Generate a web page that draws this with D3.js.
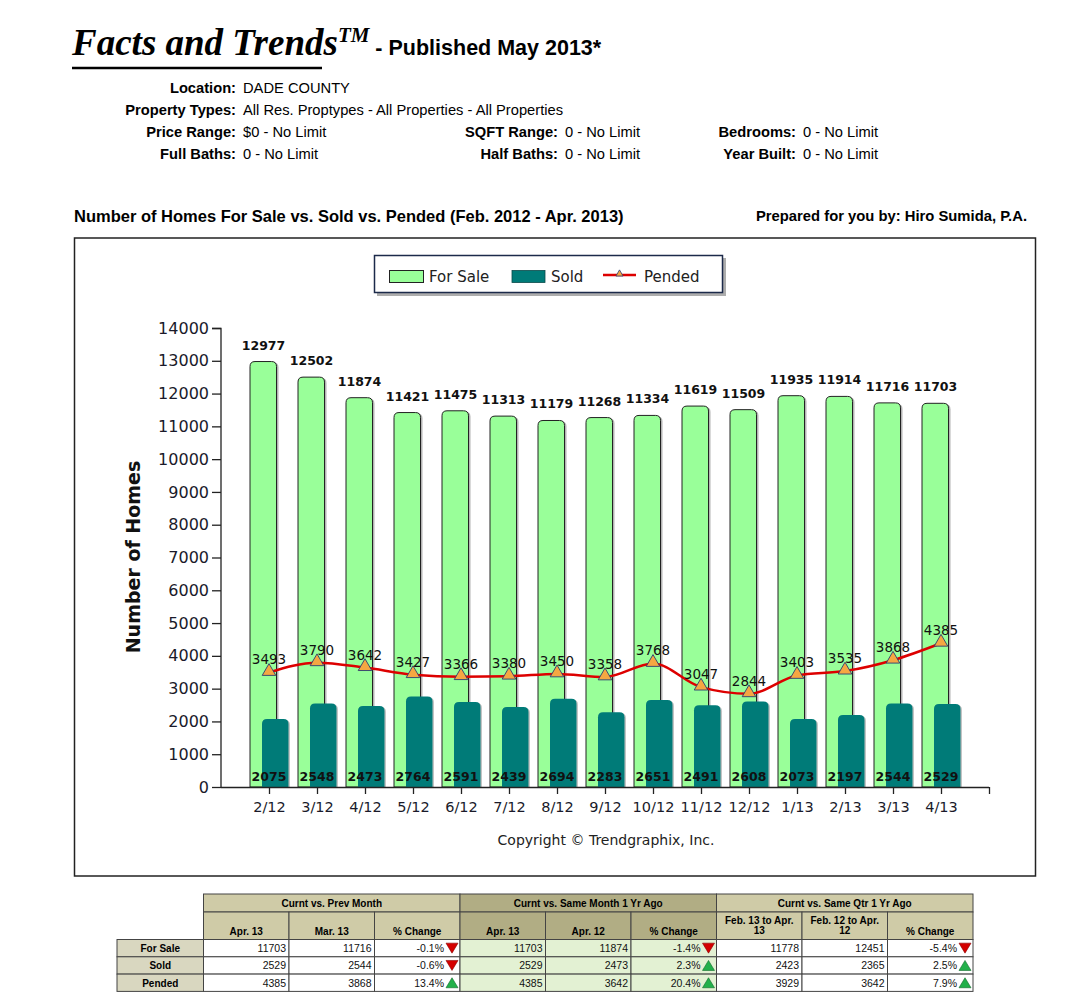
<!DOCTYPE html>
<html><head><meta charset="utf-8">
<script src="https://cdn.jsdelivr.net/npm/d3@7/dist/d3.min.js"></script>
<style>
html,body{margin:0;padding:0;background:#fff;}
svg{display:block;}
</style></head>
<body>
<svg id="c" width="1080" height="998"></svg>
<script>
// ---------- DATA ----------
const months = ["2/12","3/12","4/12","5/12","6/12","7/12","8/12","9/12","10/12","11/12","12/12","1/13","2/13","3/13","4/13"];
const forSale = [12977,12502,11874,11421,11475,11313,11179,11268,11334,11619,11509,11935,11914,11716,11703];
const sold = [2075,2548,2473,2764,2591,2439,2694,2283,2651,2491,2608,2073,2197,2544,2529];
const pended = [3493,3790,3642,3427,3366,3380,3450,3358,3768,3047,2844,3403,3535,3868,4385];
const yTicks = [0,1000,2000,3000,4000,5000,6000,7000,8000,9000,10000,11000,12000,13000,14000];
const seriesNames = ["For Sale","Sold","Pended"];

const infoRows = [
  [["Location:","DADE COUNTY"]],
  [["Property Types:","All Res. Proptypes - All Properties - All Properties"]],
  [["Price Range:","$0 - No Limit"],["SQFT Range:","0 - No Limit"],["Bedrooms:","0 - No Limit"]],
  [["Full Baths:","0 - No Limit"],["Half Baths:","0 - No Limit"],["Year Built:","0 - No Limit"]]
];

const tableGroups = ["Curnt vs. Prev Month","Curnt vs. Same Month 1 Yr Ago","Curnt vs. Same Qtr 1 Yr Ago"];
const tableCols = [["Apr. 13"],["Mar. 13"],["% Change"],["Apr. 13"],["Apr. 12"],["% Change"],["Feb. 13 to Apr.","13"],["Feb. 12 to Apr.","12"],["% Change"]];
const rowLabels = ["For Sale","Sold","Pended"];
const tableValues = [
  ["11703","11716","-0.1%","11703","11874","-1.4%","11778","12451","-5.4%"],
  ["2529","2544","-0.6%","2529","2473","2.3%","2423","2365","2.5%"],
  ["4385","3868","13.4%","4385","3642","20.4%","3929","3642","7.9%"]
];

// ---------- DRAW ----------
const svg = d3.select("#c");
const SANS = "'Liberation Sans', Arial, sans-serif";
const CH = "'DejaVu Sans', Verdana, sans-serif";

// Header
const t = svg.append("text").attr("x",72).attr("y",55);
t.append("tspan").text("Facts and Trends").attr("font-family","'Liberation Serif', 'Times New Roman', serif")
  .attr("font-style","italic").attr("font-weight","bold").attr("font-size",37);
t.append("tspan").text("TM").attr("font-family","'Liberation Serif', serif").attr("font-style","italic")
  .attr("font-weight","bold").attr("font-size",21).attr("dy",-13);
t.append("tspan").text(" - Published May 2013*").attr("font-family",SANS).attr("font-weight","bold")
  .attr("font-size",21.5).attr("dy",13);
svg.append("line").attr("x1",72).attr("x2",322).attr("y1",68).attr("y2",68).attr("stroke","#000").attr("stroke-width",2.5);

const colX = [236,558,796];
const rowY = [93,115,137,159];
infoRows.forEach((row,ri)=>{
  row.forEach((pair,ci)=>{
    svg.append("text").attr("x",colX[ci]).attr("y",rowY[ri]).attr("text-anchor","end")
      .attr("font-family",SANS).attr("font-weight","bold").attr("font-size",14.7).text(pair[0]);
    svg.append("text").attr("x",colX[ci]+7).attr("y",rowY[ri])
      .attr("font-family",SANS).attr("font-size",14.7).text(pair[1]);
  });
});

svg.append("text").attr("x",74).attr("y",222).attr("font-family",SANS).attr("font-weight","bold")
  .attr("font-size",16.5).text("Number of Homes For Sale vs. Sold vs. Pended (Feb. 2012 - Apr. 2013)");
svg.append("text").attr("x",1027).attr("y",221).attr("text-anchor","end").attr("font-family",SANS).attr("font-weight","bold")
  .attr("font-size",14.8).text("Prepared for you by: Hiro Sumida, P.A.");

// Frame
svg.append("rect").attr("x",74.5).attr("y",238).attr("width",961).attr("height",638)
  .attr("fill","#fff").attr("stroke","#222").attr("stroke-width",1.5);

// Legend
const lg = svg.append("g");
lg.append("rect").attr("x",377).attr("y",258).attr("width",349).attr("height",38).attr("fill","#8a8a8a").attr("opacity",0.7);
lg.append("rect").attr("x",374.5).attr("y",255.5).attr("width",348).attr("height",37).attr("fill","#fff").attr("stroke","#1c2a4a").attr("stroke-width",1.5);
lg.append("rect").attr("x",389.5).attr("y",270.5).attr("width",34).attr("height",12).attr("fill","#99ff99").attr("stroke","#222");
lg.append("text").attr("x",429).attr("y",282).attr("font-family",CH).attr("font-size",15).attr("fill","#222").text(seriesNames[0]);
lg.append("rect").attr("x",512).attr("y",270.5).attr("width",33).attr("height",12).attr("fill","#007b78").attr("stroke","#0b4a4a").attr("stroke-width",0.8);
lg.append("text").attr("x",551).attr("y",282).attr("font-family",CH).attr("font-size",15).attr("fill","#222").text(seriesNames[1]);
lg.append("line").attr("x1",603).attr("x2",636).attr("y1",275).attr("y2",275).attr("stroke","#dd0000").attr("stroke-width",2.5);
lg.append("path").attr("d",d3.symbol(d3.symbolTriangle,22)()).attr("transform","translate(619.5,274)").attr("fill","#f5a742").attr("stroke","#2c3c70").attr("stroke-width",0.8);
lg.append("text").attr("x",644).attr("y",282).attr("font-family",CH).attr("font-size",15).attr("fill","#222").text(seriesNames[2]);

// Scales
const x = d3.scaleLinear().domain([0, months.length+1]).range([221, 989]);
const y = d3.scaleLinear().domain([0, 14000]).range([787, 328]);

function topRounded(x0, y0, w, h, r){
  r = Math.min(r, h);
  return `M${x0},${y0+h}V${y0+r}Q${x0},${y0} ${x0+r},${y0}H${x0+w-r}Q${x0+w},${y0} ${x0+w},${y0+r}V${y0+h}Z`;
}
const BW = 26.5;

// For Sale bars (shadow then bar)
const gBars = svg.append("g");
forSale.forEach((v,i)=>{
  const cx = x(i+1);
  gBars.append("path").attr("d", topRounded(cx-19+2, y(v)+1, BW, y(0)-y(v)-1, 5)).attr("fill","#777").attr("opacity",0.55);
  gBars.append("path").attr("d", topRounded(cx-19, y(v), BW, y(0)-y(v), 5)).attr("fill","#99ff99").attr("stroke","#222").attr("stroke-width",1);
});
// Sold bars
sold.forEach((v,i)=>{
  const cx = x(i+1);
  gBars.append("path").attr("d", topRounded(cx-7+1.5, y(v)+1, BW, y(0)-y(v)-1, 5)).attr("fill","#555").attr("opacity",0.35);
  gBars.append("path").attr("d", topRounded(cx-7, y(v), BW, y(0)-y(v), 5)).attr("fill","#007b78");
});

// Axes
const yAxis = d3.axisLeft(y).tickValues(yTicks).tickSize(9).tickPadding(3).tickFormat(d3.format("d"));
const ya = svg.append("g").attr("transform","translate(221,0)").call(yAxis);
ya.select(".domain").attr("stroke","#222").attr("stroke-width",1.3).attr("d","M-9,328.5H0V787");
ya.selectAll(".tick line").attr("stroke","#222").attr("stroke-width",1.3);
ya.selectAll(".tick text").attr("font-family",CH).attr("font-size",16).attr("fill","#1a1a2a");

const xAxis = d3.axisBottom(x).tickValues(d3.range(1, months.length+2)).tickSize(7).tickPadding(6)
  .tickFormat(d=> months[d-1] || "");
const xa = svg.append("g").attr("transform","translate(0,787)").call(xAxis);
xa.select(".domain").attr("stroke","#222").attr("stroke-width",1.3).attr("d","M221,0.5H989");
xa.selectAll(".tick line").attr("stroke","#222").attr("stroke-width",1.3);
xa.selectAll(".tick text").attr("font-family",CH).attr("font-size",14.5).attr("fill","#1a1a2a").attr("dy","0.85em");

// Value labels
const lbl = svg.append("g").attr("font-family",CH);
forSale.forEach((v,i)=>{
  lbl.append("text").attr("x", x(i+1)-5.5).attr("y", y(v)-12).attr("text-anchor","middle")
    .attr("font-weight","bold").attr("font-size",12.5).attr("fill","#111").text(v);
});
sold.forEach((v,i)=>{
  lbl.append("text").attr("x", x(i+1)).attr("y", 781).attr("text-anchor","middle")
    .attr("font-weight","bold").attr("font-size",12.5).attr("fill","#111").text(v);
});

// Pended line
const line = d3.line().x((d,i)=>x(i+1)).y(d=>y(d)).curve(d3.curveMonotoneX);
svg.append("path").datum(pended).attr("d",line).attr("fill","none").attr("stroke","#dd0000").attr("stroke-width",2.5);
pended.forEach((v,i)=>{
  svg.append("path").attr("d",d3.symbol(d3.symbolTriangle,80)()).attr("transform",`translate(${x(i+1)},${y(v)-1})`)
    .attr("fill","#f5a742").attr("stroke","#2c3c70").attr("stroke-width",0.9);
  svg.append("text").attr("x",x(i+1)).attr("y",y(v)-8).attr("text-anchor","middle").attr("font-family",CH)
    .attr("font-size",13.5).attr("fill","#111").text(v);
});

// Y axis title
svg.append("text").attr("transform","translate(140,557) rotate(-90)").attr("text-anchor","middle")
  .attr("font-family",CH).attr("font-weight","bold").attr("font-size",19).attr("fill","#111").text("Number of Homes");

// Copyright
svg.append("text").attr("x",606).attr("y",845).attr("text-anchor","middle").attr("font-family",CH)
  .attr("font-size",14).attr("fill","#222").text("Copyright \u00A9 Trendgraphix, Inc.");

// ---------- TABLE ----------
const tb = svg.append("g").attr("font-family",SANS);
const colW = 85.5, tx0 = 203.5;
const hy0 = 894, hy1 = 912, hy2 = 939.5, rowH = 17.3;
const grpHead = ["#cfcba7","#b1ad84","#cfcba7"];
const grpCell = ["#ffffff","#e3f1d3","#ffffff"];
const bd = "#444";
tableGroups.forEach((g,gi)=>{
  const gx = tx0 + gi*3*colW;
  tb.append("rect").attr("x",gx).attr("y",hy0).attr("width",3*colW).attr("height",hy1-hy0).attr("fill",grpHead[gi]).attr("stroke",bd);
  tb.append("text").attr("x",gx+1.5*colW).attr("y",hy0+12.5).attr("text-anchor","middle").attr("font-weight","bold").attr("font-size",10).text(g);
});
tableCols.forEach((c,ci)=>{
  const gi = Math.floor(ci/3);
  const cx = tx0 + ci*colW;
  tb.append("rect").attr("x",cx).attr("y",hy1).attr("width",colW).attr("height",hy2-hy1).attr("fill",grpHead[gi]).attr("stroke",bd);
  if(c.length===1){
    tb.append("text").attr("x",cx+colW/2).attr("y",hy2-5).attr("text-anchor","middle").attr("font-weight","bold").attr("font-size",10).text(c[0]);
  } else {
    tb.append("text").attr("x",cx+colW/2).attr("y",hy2-16).attr("text-anchor","middle").attr("font-weight","bold").attr("font-size",10).text(c[0]);
    tb.append("text").attr("x",cx+colW/2).attr("y",hy2-6).attr("text-anchor","middle").attr("font-weight","bold").attr("font-size",10).text(c[1]);
  }
});
rowLabels.forEach((r,ri)=>{
  const ry = hy2 + ri*rowH;
  tb.append("rect").attr("x",117).attr("y",ry).attr("width",tx0-117).attr("height",rowH).attr("fill","#d9d7c0").attr("stroke",bd);
  tb.append("text").attr("x",(117+tx0)/2).attr("y",ry+12.5).attr("text-anchor","middle").attr("font-weight","bold").attr("font-size",10).text(r);
  tableValues[ri].forEach((v,ci)=>{
    const gi = Math.floor(ci/3);
    const cx = tx0 + ci*colW;
    tb.append("rect").attr("x",cx).attr("y",ry).attr("width",colW).attr("height",rowH).attr("fill",grpCell[gi]).attr("stroke",bd);
    const isPct = ci%3===2;
    tb.append("text").attr("x",cx+colW-(isPct?16:3)).attr("y",ry+12.5).attr("text-anchor","end").attr("font-size",10.5).attr("fill","#111").text(v);
    if(isPct){
      const up = v.charAt(0)!=="-";
      const ax = cx+colW-8, ay = ry+rowH/2;
      const d = up ? `M${ax-6},${ay+5}L${ax},${ay-5}L${ax+6},${ay+5}Z` : `M${ax-6},${ay-5}L${ax+6},${ay-5}L${ax},${ay+5}Z`;
      tb.append("path").attr("d",d).attr("fill", up ? "#22b04a" : "#d40000").attr("stroke", up? "#0f6a2a":"#8a0000").attr("stroke-width",0.6);
    }
  });
});
</script>
</body></html>
